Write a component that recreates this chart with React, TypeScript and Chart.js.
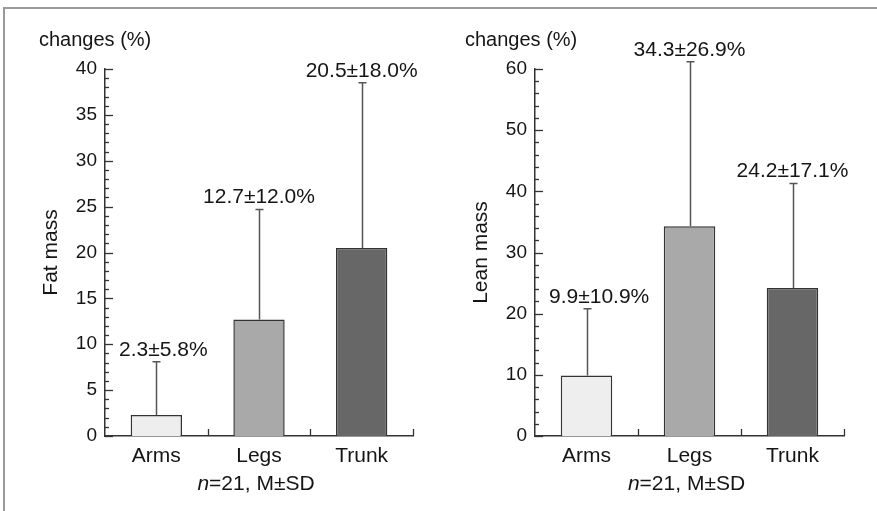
import React, { useEffect, useRef } from "react";
import { Chart, registerables } from "chart.js";

Chart.register(...registerables);

const categories = ["Arms", "Legs", "Trunk"];
const fatMean = [2.3, 12.7, 20.5];
const fatSD = [5.8, 12.0, 18.0];
const leanMean = [9.9, 34.3, 24.2];
const leanSD = [10.9, 26.9, 17.1];
const fatAxis = { max: 40, major: 5, minor: 1 };
const leanAxis = { max: 60, major: 10, minor: 2 };
const barColors = ["#eeeeee", "#a9a9a9", "#676767"];
const yTitles = ["Fat mass", "Lean mass"];
const unitTitle = "changes (%)";
const noteItalic = "n";
const noteRest = "=21, M\u00b1SD";

const FONT = "'Liberation Sans', Arial, Helvetica, sans-serif";
const INK = "#151515";

const annotPlugin = {
  id: "annot",
  afterDatasetsDraw(chart: any, _args: any, opts: any) {
    const ctx = chart.ctx;
    const xs = chart.scales.x;
    const ys = chart.scales.y;
    const area = chart.chartArea;
    const meta = chart.getDatasetMeta(0);
    const means: number[] = opts.means;
    const sds: number[] = opts.sds;
    ctx.save();
    // y-axis inward ticks
    ctx.strokeStyle = "#333";
    ctx.lineWidth = 1.3;
    for (let v = 0; v <= opts.max + 1e-9; v += opts.minor) {
      const py = Math.round(ys.getPixelForValue(v)) + 0.5;
      const isMajor = Math.abs(v / opts.major - Math.round(v / opts.major)) < 1e-6;
      const len = isMajor ? 8 : 4;
      ctx.beginPath();
      ctx.moveTo(area.left, py);
      ctx.lineTo(area.left + len, py);
      ctx.stroke();
    }
    // x-axis category boundary ticks (upwards)
    const half = (xs.getPixelForValue(1) - xs.getPixelForValue(0)) / 2;
    for (let i = 0; i < categories.length; i++) {
      const px = Math.round(xs.getPixelForValue(i) + half) + 0.5;
      ctx.beginPath();
      ctx.moveTo(px, area.bottom);
      ctx.lineTo(px, area.bottom - 7);
      ctx.stroke();
    }
    // error bars
    ctx.strokeStyle = "#555";
    ctx.lineWidth = 1.5;
    for (let i = 0; i < means.length; i++) {
      const bar = meta.data[i];
      const px = Math.round(bar.x) + 0.5;
      const yTop = ys.getPixelForValue(means[i] + sds[i]);
      ctx.beginPath();
      ctx.moveTo(px, bar.y);
      ctx.lineTo(px, yTop);
      ctx.moveTo(px - 4, yTop);
      ctx.lineTo(px + 4, yTop);
      ctx.stroke();
    }
    // value labels
    ctx.fillStyle = INK;
    ctx.font = `21px ${FONT}`;
    ctx.textBaseline = "alphabetic";
    ctx.textAlign = "center";
    for (let i = 0; i < means.length; i++) {
      const bar = meta.data[i];
      const yTop = ys.getPixelForValue(means[i] + sds[i]);
      const txt = `${means[i].toFixed(1)}\u00b1${sds[i].toFixed(1)}%`;
      const w = ctx.measureText(txt).width;
      const cx = Math.max(bar.x, area.left + 14 + w / 2);
      ctx.fillText(txt, cx, yTop - 6);
    }
    // unit title
    ctx.textAlign = "left";
    ctx.font = `20px ${FONT}`;
    ctx.fillText(unitTitle, area.left - opts.unitOffset, area.top - 23);
    // y title rotated
    ctx.save();
    ctx.translate(area.left - 54, (area.top + area.bottom) / 2);
    ctx.rotate(-Math.PI / 2);
    ctx.textAlign = "center";
    ctx.textBaseline = "middle";
    ctx.font = `21px ${FONT}`;
    ctx.fillText(opts.yTitle, 0, 0);
    ctx.restore();
    // bottom note
    ctx.font = `italic 21px ${FONT}`;
    const w1 = ctx.measureText(noteItalic).width;
    ctx.font = `21px ${FONT}`;
    const w2 = ctx.measureText(noteRest).width;
    const cx = (area.left + area.right) / 2 - 3;
    const startX = cx - (w1 + w2) / 2;
    const by = area.bottom + 54;
    ctx.textAlign = "left";
    ctx.font = `italic 21px ${FONT}`;
    ctx.fillText(noteItalic, startX, by);
    ctx.font = `21px ${FONT}`;
    ctx.fillText(noteRest, startX + w1, by);
    ctx.restore();
  },
};

function makeConfig(
  means: number[],
  sds: number[],
  axis: { max: number; major: number; minor: number },
  yTitle: string,
  axisWidth: number,
  rightPad: number,
  unitOffset: number
): any {
  return {
    type: "bar",
    data: {
      labels: categories,
      datasets: [
        {
          data: means,
          backgroundColor: barColors,
          borderColor: "#333333",
          borderWidth: 1.5,
          barPercentage: 0.5,
          categoryPercentage: 1,
        },
      ],
    },
    options: {
      animation: false,
      responsive: false,
      maintainAspectRatio: false,
      layout: { padding: { left: 0, right: rightPad, top: 69, bottom: 0 } },
      plugins: {
        legend: { display: false },
        tooltip: { enabled: false },
        annot: { means, sds, max: axis.max, major: axis.major, minor: axis.minor, yTitle, unitOffset },
      },
      scales: {
        x: {
          grid: { display: false, drawTicks: false },
          border: { display: true, color: "#333333", width: 1.5 },
          ticks: { font: { family: FONT, size: 21 }, color: INK, padding: 8 },
          afterFit(s: any) {
            s.height = 75;
          },
        },
        y: {
          min: 0,
          max: axis.max,
          grid: { display: false, drawTicks: false },
          border: { display: true, color: "#333333", width: 1.5 },
          ticks: { stepSize: axis.major, font: { family: FONT, size: 19 }, color: INK, padding: 8 },
          afterFit(s: any) {
            s.width = axisWidth;
          },
        },
      },
    },
    plugins: [annotPlugin],
  };
}

function BarPanel(props: { config: any; left: number; width: number }) {
  const ref = useRef<HTMLCanvasElement | null>(null);
  useEffect(() => {
    if (!ref.current) return;
    const chart = new Chart(ref.current, props.config);
    return () => chart.destroy();
  }, []);
  return (
    <canvas
      ref={ref}
      width={props.width}
      height={511}
      style={{ position: "absolute", left: props.left, top: 0, width: props.width, height: 511 }}
    />
  );
}

export default function App() {
  const leftCfg = makeConfig(fatMean, fatSD, fatAxis, yTitles[0], 105, 25, 66);
  const rightCfg = makeConfig(leanMean, leanSD, leanAxis, yTitles[1], 97, 33, 70);
  return (
    <div style={{ position: "absolute", left: 0, top: 0, width: 877, height: 511, background: "#fff", overflow: "hidden" }}>
      <div style={{ position: "absolute", left: 3, top: 7, width: 874, height: 2, background: "#9a9a9a" }} />
      <div style={{ position: "absolute", left: 3, top: 7, width: 2, height: 504, background: "#9a9a9a" }} />
      <BarPanel config={leftCfg} left={0} width={438} />
      <BarPanel config={rightCfg} left={438} width={439} />
    </div>
  );
}
